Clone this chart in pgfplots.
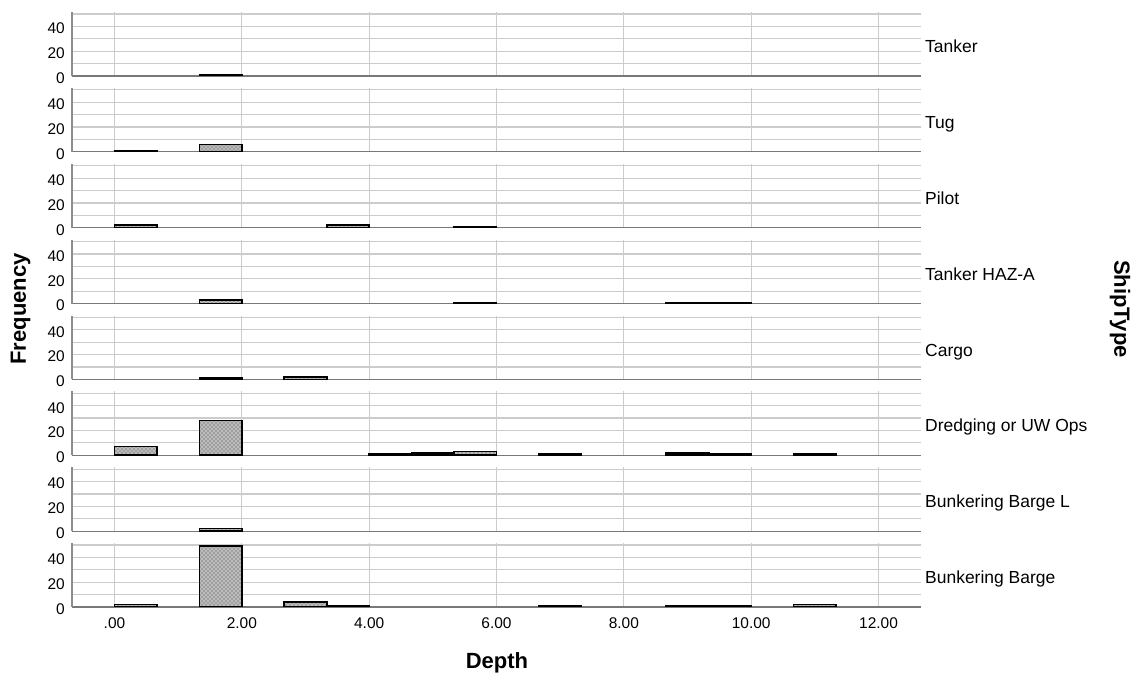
\documentclass[border=0pt]{standalone}
\usepackage{fontspec}
\setmainfont{Liberation Sans}
\usepackage{pgfplots}
\pgfplotsset{compat=1.18}
\usetikzlibrary{patterns}
\definecolor{gridc}{RGB}{204,204,204}
\definecolor{axc}{RGB}{120,120,120}
\definecolor{barc}{RGB}{188,188,188}

\pgfplotsset{
  panel/.style={
    anchor=origin, x=47.75pt, y=0.93pt,
    xmin=-0.6667, xmax=12.6667, ymin=0, ymax=51.5,
    axis x line*=bottom, axis y line*=left,
    x axis line style={draw=axc, line width=0.9pt},
    y axis line style={draw=axc!85, line width=0.9pt},
    xtick={0,2,4,6,8,10,12}, ytick={0,20,40}, minor ytick={10,30,50},
    xmajorgrids, ymajorgrids, yminorgrids,
    major grid style={draw=gridc, line width=0.9pt},
    minor grid style={draw=gridc, line width=0.9pt},
    major tick length=0pt, minor tick length=0pt,
    xticklabels={},
    /pgf/number format/assume math mode=true,
    yticklabel style={font=\fontsize{11.6}{13}\selectfont, inner sep=0pt, xshift=-5.25pt, yshift=-1.5pt},
    xticklabel style={font=\fontsize{11.6}{13}\selectfont, inner sep=0pt, anchor=base, yshift=-16pt},
    clip=true, clip mode=individual,
  },
  hbar/.style={ybar, bar width=0.6667, bar shift=0pt, draw=black, line width=1.2pt,
    fill=barc, postaction={pattern=crosshatch dots, pattern color=black!75}},
}
\tikzset{rlab/.style={anchor=base west, inner sep=0pt, xshift=3pt, font=\fontsize{13.1}{15}\selectfont}}

\begin{document}
\begin{tikzpicture}

% Tanker
\begin{axis}[panel, at={(85.875pt,449.25pt)}]
\addplot[hbar] coordinates {(1.6667,1)};
\node[rlab] at (axis cs:12.6667,18.8) {Tanker};
\end{axis}

% Tug
\begin{axis}[panel, at={(85.875pt,392.36pt)}]
\addplot[hbar] coordinates {(0.3333,1) (1.6667,6)};
\node[rlab] at (axis cs:12.6667,18.8) {Tug};
\end{axis}

% Pilot
\begin{axis}[panel, at={(85.875pt,335.47pt)}]
\addplot[hbar] coordinates {(0.3333,2) (3.6667,2) (5.6667,1)};
\node[rlab] at (axis cs:12.6667,18.8) {Pilot};
\end{axis}

% Tanker HAZ-A
\begin{axis}[panel, at={(85.875pt,278.57pt)}]
\addplot[hbar] coordinates {(1.6667,3) (5.6667,1) (9.0,1) (9.6667,1)};
\node[rlab] at (axis cs:12.6667,18.8) {Tanker HAZ-A};
\end{axis}

% Cargo
\begin{axis}[panel, at={(85.875pt,221.68pt)}]
\addplot[hbar] coordinates {(1.6667,1) (3.0,2)};
\node[rlab] at (axis cs:12.6667,18.8) {Cargo};
\end{axis}

% Dredging or UW Ops
\begin{axis}[panel, at={(85.875pt,164.78pt)}]
\addplot[hbar] coordinates {(0.3333,7) (1.6667,28) (4.3333,1) (5.0,2) (5.6667,3) (7.0,1) (9.0,2) (9.6667,1) (11.0,1)};
\node[rlab] at (axis cs:12.6667,18.8) {Dredging or UW Ops};
\end{axis}

% Bunkering Barge L
\begin{axis}[panel, at={(85.875pt,107.89pt)}]
\addplot[hbar] coordinates {(1.6667,2)};
\node[rlab] at (axis cs:12.6667,18.8) {Bunkering Barge L};
\end{axis}

% Bunkering Barge
\begin{axis}[panel, at={(85.875pt,51.0pt)},
  xticklabels={.00,2.00,4.00,6.00,8.00,10.00,12.00}]
\addplot[hbar] coordinates {(0.3333,2) (1.6667,49) (3.0,4) (3.6667,1) (7.0,1) (9.0,1) (9.6667,1) (11.0,2)};
\node[rlab] at (axis cs:12.6667,18.8) {Bunkering Barge};
\end{axis}

\node[rotate=90, font=\fontsize{16.5}{19}\bfseries] at (15.5pt,274.5pt) {Frequency};
\node[rotate=-90, font=\fontsize{16.5}{19}\bfseries] at (840pt,274.5pt) {ShipType};
\node[font=\fontsize{16.5}{19}\bfseries] at (372.75pt,9.5pt) {Depth};

\pgfresetboundingbox
\path[use as bounding box] (0,0) rectangle (852pt,506.25pt);
\end{tikzpicture}
\end{document}
